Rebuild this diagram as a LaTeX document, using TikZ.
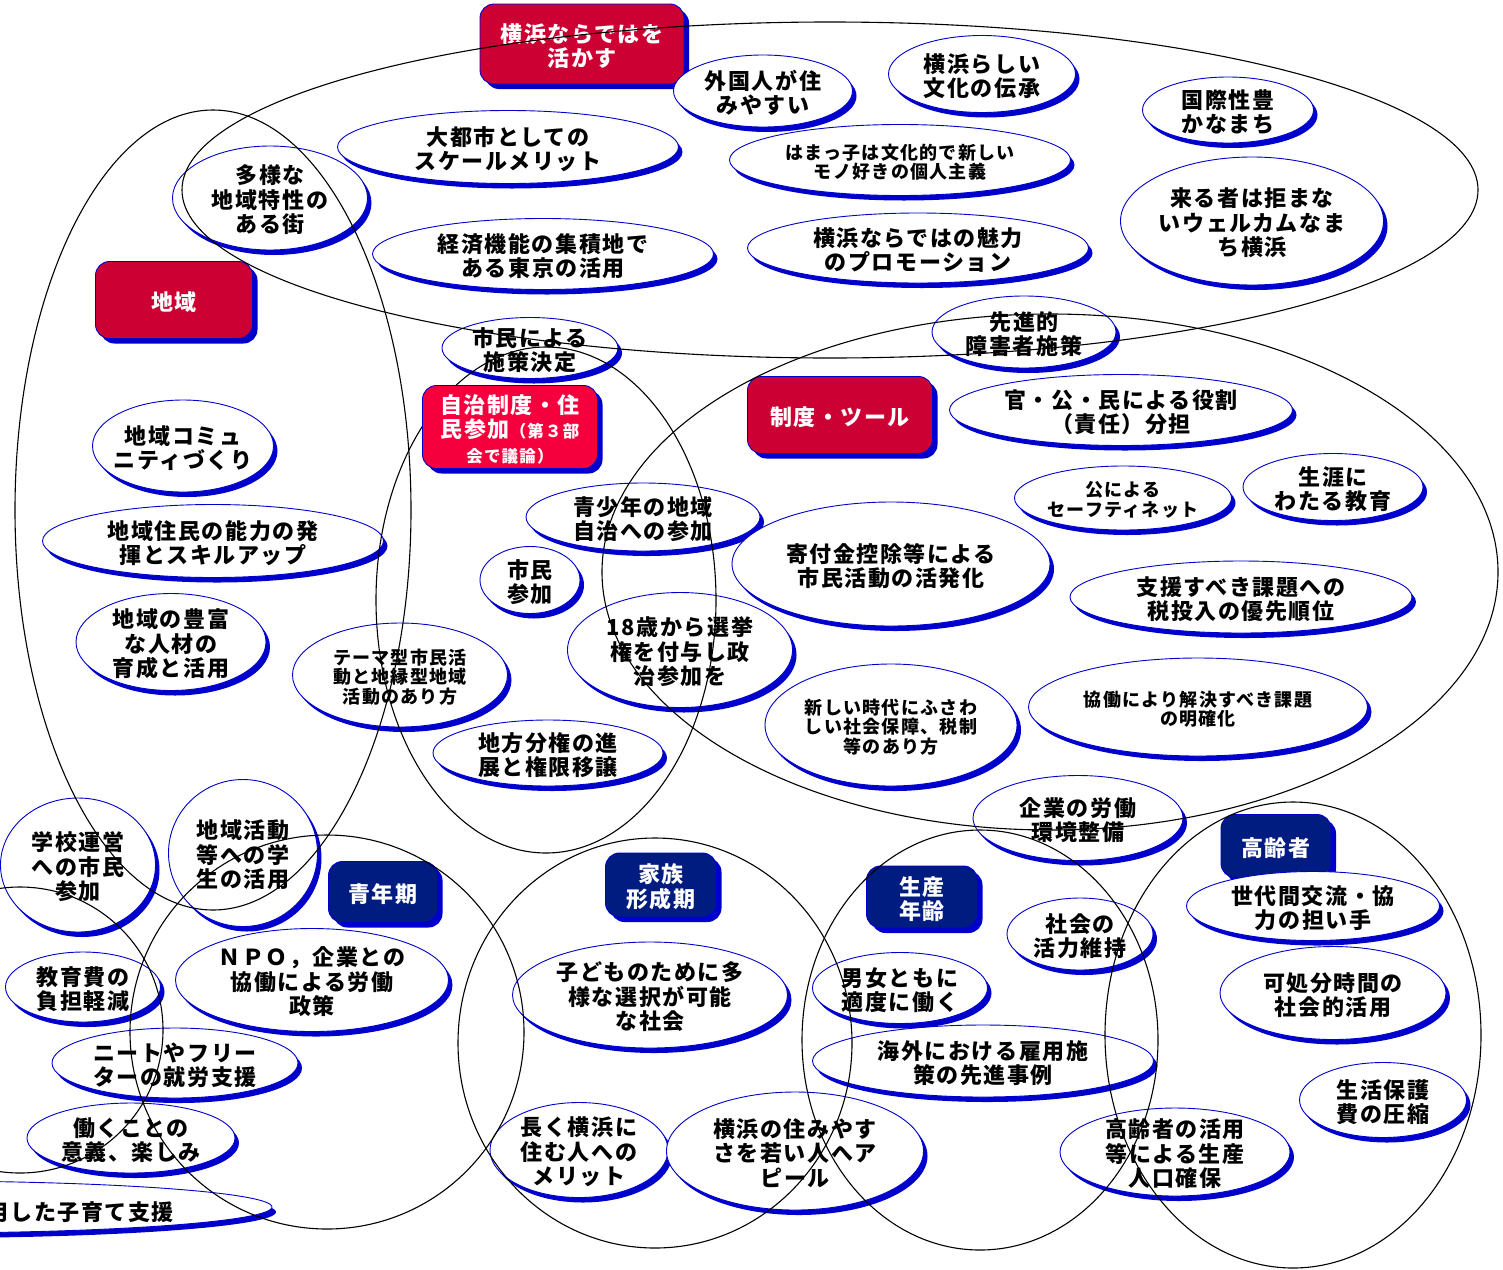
\documentclass[tikz,border=0pt]{standalone}
\usepackage{fontspec}
\setmainfont{Noto Sans CJK JP}[LetterSpace=7]
\usetikzlibrary{shapes.geometric}
\definecolor{sb}{RGB}{0,0,204}
\definecolor{rbox}{RGB}{204,0,51}
\definecolor{rboxb}{RGB}{245,0,60}
\definecolor{nbox}{RGB}{0,28,128}
\newcommand\FntL{\fontsize{22}{24.5}\selectfont\bfseries}
\newcommand\FntS{\fontsize{18}{19.5}\selectfont\bfseries}
\newcommand\FntT{\fontsize{16.5}{19}\selectfont\bfseries}
\tikzset{
  bub/.style={ellipse, draw=sb, line width=0.9pt, fill=white, inner sep=0pt},
  bshadow/.style={ellipse, fill=sb, inner sep=0pt},
  btext/.style={align=center, inner sep=0pt, font=\FntL, text=black},
  grp/.style={ellipse, draw=black, line width=1.1pt, inner sep=0pt},
  tagbox/.style={rectangle, rounded corners=14pt, draw=sb, line width=0.9pt, inner sep=0pt},
  tshadow/.style={rectangle, rounded corners=14pt, fill=sb, inner sep=0pt},
  ttext/.style={align=center, inner sep=0pt, font=\FntL, text=white}
}
% name, x, y, w, h, extra text style, text
\newcommand\Bub[7]{%
  \node[bshadow, minimum width=#4pt, minimum height=#5pt] (#1s) at (#2+4,#3+5) {};
  \node[bub, minimum width=#4pt, minimum height=#5pt] (#1) at (#2,#3) {};
  \node[btext,#6] (#1t) at ([yshift=-2pt]#1.center) {#7};
}
% name, x, y, w, h, fill colour, text
\newcommand\Tag[7]{%
  \node[tshadow, minimum width=#4pt, minimum height=#5pt] (#1s) at (#2+5,#3+5) {};
  \node[tagbox, fill=#6, minimum width=#4pt, minimum height=#5pt] (#1) at (#2,#3) {};
  \node[ttext] (#1t) at ([yshift=-2pt]#1.center) {#7};
}
\begin{document}
\begin{tikzpicture}[x=1pt,y=-1pt]
\useasboundingbox (0,0) rectangle (1503,1269);
\clip (0,0) rectangle (1503,1269);
\fill[white] (0,0) rectangle (1503,1269);

% ---------- top group ----------
\Tag{yoko}{582}{44}{204}{80}{rbox}{横浜ならではを\\活かす}
\Bub{gaikoku}{763}{91}{179}{72}{}{外国人が住\\みやすい}
\Bub{bunka}{982}{74}{187}{77}{}{横浜らしい\\文化の伝承}
\Bub{kokusai}{1228}{110}{171}{66}{}{国際性豊\\かなまち}
\Bub{daitoshi}{508}{147}{341}{73}{}{大都市としての\\スケールメリット}
\Bub{hamakko}{900}{160}{341}{71}{font=\FntS}{はまっ子は文化的で新しい\\モノ好きの個人主義}
\Bub{kuru}{1252}{221}{263}{128}{}{来る者は拒まな\\いウェルカムなま\\ち横浜}
\Bub{tayou}{270}{198}{195}{104}{}{多様な\\地域特性の\\ある街}
\Bub{keizai}{543}{254}{341}{71}{}{経済機能の集積地で\\ある東京の活用}
\Bub{miryoku}{918}{248}{341}{70}{}{横浜ならではの魅力\\のプロモーション}

% ---------- middle ----------
\Bub{senshin}{1024}{332}{184}{72}{}{先進的\\障害者施策}
\Bub{kan}{1121}{410}{343}{71}{}{官・公・民による役割\\（責任）分担}
\Tag{chiiki}{174}{300}{157}{77}{rbox}{地域}
\Bub{shimin}{530}{348}{176}{61}{}{市民による\\施策決定}
\Tag{seido}{840}{415}{185}{77}{rbox}{制度・ツール}
\Bub{komyu}{183}{446}{181}{92}{}{地域コミュ\\ニティづくり}
\Bub{nouryoku}{213}{541}{341}{73}{}{地域住民の能力の発\\揮とスキルアップ}
\Bub{jinzai}{171}{642}{190}{97}{}{地域の豊富\\な人材の\\育成と活用}
\Bub{theme}{400}{675}{215}{104}{font=\FntS}{テーマ型市民活\\動と地縁型地域\\活動のあり方}
\Bub{bunken}{548}{753}{230}{66}{}{地方分権の進\\展と権限移譲}
\Bub{seishonen}{643}{517}{234}{68}{}{青少年の地域\\自治への参加}
\Bub{sanka}{530}{580}{100}{67}{}{市民\\参加}
\Bub{senkyo}{680}{650}{225}{115}{}{18歳から選挙\\権を付与し政\\治参加を}
\Bub{kifu}{891}{564}{318}{124}{}{寄付金控除等による\\市民活動の活発化}
\Bub{shakai}{891}{725}{252}{122}{font=\FntS}{新しい時代にふさわ\\しい社会保障、税制\\等のあり方}
\Bub{safety}{1123}{498}{217}{64}{font=\FntS}{公による\\セーフティネット}
\Bub{shogai}{1333}{487}{180}{67}{}{生涯に\\わたる教育}
\Bub{shien}{1241}{597}{342}{72}{}{支援すべき課題への\\税投入の優先順位}
\Bub{kyodo}{1198}{707}{339}{98}{font=\FntS}{協働により解決すべき課題\\の明確化}
\Bub{kigyo}{1078}{818}{210}{85}{}{企業の労働\\環境整備}

% ---------- bottom ----------
\Bub{gakko}{78}{865}{155}{134}{}{学校運営\\への市民\\参加}
\Bub{gakusei}{243}{853}{149}{147}{}{地域活動\\等への学\\生の活用}
\Tag{seinen}{383}{892}{109}{61}{nbox}{青年期}
\Bub{kyoikuhi}{83}{987}{155}{70}{}{教育費の\\負担軽減}
\Bub{npo}{312}{980}{273}{103}{}{ＮＰＯ，企業との\\協働による労働\\政策}
\Bub{neet}{175}{1063}{246}{70}{}{ニートやフリー\\ターの就労支援}
\Bub{hataraku}{131}{1138}{208}{70}{}{働くことの\\意義、楽しみ}
\node[bshadow, minimum width=704pt, minimum height=52pt] (kosos) at (-76,1212) {};
\node[bub, minimum width=704pt, minimum height=52pt] (koso) at (-80,1207) {};
\node[btext, anchor=east] (kosot) at (174,1212) {活用した子育て支援};
\Tag{kazoku}{661}{885}{111}{64}{nbox}{家族\\形成期}
\Bub{kodomo}{650}{995}{275}{106}{}{子どものために多\\様な選択が可能\\な社会}
\Bub{nagaku}{579}{1150}{178}{95}{}{長く横浜に\\住む人への\\メリット}
\Bub{sumiyasu}{795}{1151}{257}{118}{}{横浜の住みやす\\さを若い人へア\\ピール}
\Tag{seisan}{922}{897}{111}{62}{nbox}{生産\\年齢}
\Bub{kaigai}{983}{1061}{341}{72}{}{海外における雇用施\\策の先進事例}
\Bub{danjo}{900}{988}{175}{71}{}{男女ともに\\適度に働く}
\Bub{katsuryoku}{1080}{934}{146}{72}{}{社会の\\活力維持}
\Tag{koreisha}{1276}{846}{110}{63}{nbox}{高齢者}
\Bub{sedai}{1313}{906}{253}{69}{}{世代間交流・協\\力の担い手}
\Bub{kashobun}{1333}{993}{226}{93}{}{可処分時間の\\社会的活用}
\Bub{seikatsu}{1383}{1100}{167}{75}{}{生活保護\\費の圧縮}
\Bub{koreikatsu}{1175}{1152}{230}{88}{}{高齢者の活用\\等による生産\\人口確保}

% ---------- group outlines ----------
\node[grp, minimum width=1296pt, minimum height=336pt] (g1) at (830,190) {};
\node[grp, minimum width=396pt, minimum height=800pt] (g2) at (213,510) {};
\node[grp, minimum width=340pt, minimum height=506pt] (g3) at (546,600) {};
\node[grp, minimum width=896pt, minimum height=516pt] (g4) at (1050,572) {};
\node[grp, minimum width=394pt, minimum height=394pt] (g5) at (327,1032) {};
\node[grp, minimum width=394pt, minimum height=410pt] (g6) at (655,1043) {};
\node[grp, minimum width=356pt, minimum height=420pt] (g7) at (980,1040) {};
\node[grp, minimum width=376pt, minimum height=466pt] (g8) at (1293,1035) {};
\node[grp, minimum width=286pt, minimum height=286pt] (g9) at (20,1030) {};

% box drawn above its group outline
\Tag{jichi}{510}{427}{175}{83}{rboxb}{自治制度・住\\民参加{\FntT（第３部}\\{\FntT 会で議論）}}
\end{tikzpicture}
\end{document}
